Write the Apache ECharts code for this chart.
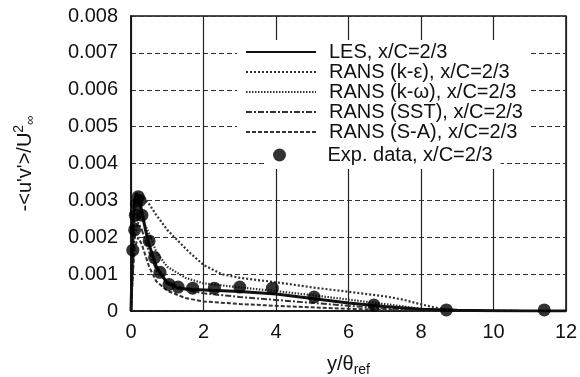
<!DOCTYPE html>
<html><head><meta charset="utf-8">
<script src="https://cdn.jsdelivr.net/npm/echarts@6/dist/echarts.min.js"></script>
<style>html,body{margin:0;padding:0;background:#fff}#c{width:580px;height:377px}</style>
</head><body><div id="c"></div>
<script>
var xTicks = [0,2,4,6,8,10,12];
var yTicks = [0,0.001,0.002,0.003,0.004,0.005,0.006,0.007,0.008];

var lesX = [0,0.03,0.06,0.1,0.15,0.2,0.3,0.4,0.5,0.7,1.0,1.3,1.7,2.2,3,4,5,6,7,8,9,10,11,12];
var lesY = [0,0.0012,0.0024,0.003,0.0032,0.0031,0.0027,0.0022,0.0018,0.0012,0.00075,0.00062,0.00058,0.00056,0.00053,0.00046,0.00034,0.00022,0.00012,0.00005,0.00002,0.00001,0,0];

var keX = [0,0.05,0.1,0.2,0.3,0.5,0.7,1.0,1.3,1.6,2.0,2.5,3,4,5,6,7,7.5,8,8.5,9,10,12];
var keY = [0,0.0015,0.0026,0.0031,0.0031,0.0029,0.0026,0.0022,0.0019,0.0016,0.00125,0.001,0.0009,0.00078,0.00064,0.00052,0.0004,0.00031,0.00018,0.00007,0.00002,0,0];

var kwX = [0,0.05,0.1,0.2,0.3,0.5,0.7,1.0,1.5,2,3,4,5,6,7,8,8.5,9,12];
var kwY = [0,0.0013,0.0022,0.0026,0.0025,0.0021,0.0016,0.0012,0.0009,0.00075,0.00064,0.00054,0.00043,0.00031,0.00019,0.00006,0.00002,0,0];

var sstX = [0,0.05,0.1,0.2,0.3,0.5,0.7,1.0,1.5,2,3,4,5,6,7,8,9,12];
var sstY = [0,0.0012,0.002,0.0024,0.0022,0.0016,0.0011,0.0008,0.00058,0.00048,0.00038,0.0003,0.00022,0.00014,0.00007,0.00002,0,0];

var saX = [0,0.05,0.1,0.2,0.3,0.5,0.7,1.0,1.5,2,3,4,5,6,7,8,12];
var saY = [0,0.001,0.0017,0.002,0.0018,0.0012,0.0008,0.00055,0.00035,0.00026,0.00019,0.00014,0.0001,0.00006,0.00003,0.00001,0];

var expX = [0.05,0.1,0.12,0.15,0.2,0.25,0.3,0.5,0.65,0.8,1.05,1.3,1.7,2.3,3.0,3.9,5.05,6.7,8.7,11.4];
var expY = [0.00165,0.0022,0.0026,0.0029,0.0031,0.003,0.0026,0.0019,0.00145,0.00105,0.00072,0.00065,0.00062,0.00062,0.00065,0.00062,0.00038,0.00016,0.00003,0.00003];

var names = ['LES, x/C=2/3','RANS (k-\u03b5), x/C=2/3','RANS (k-\u03c9), x/C=2/3','RANS (SST), x/C=2/3','RANS (S-A), x/C=2/3','Exp. data, x/C=2/3'];

function zip(a,b){return a.map(function(v,i){return [v,b[i]];});}
var FONT = '"Liberation Sans", Arial, sans-serif';
var chart = echarts.init(document.getElementById('c'));
chart.setOption({
  animation:false,
  backgroundColor:'#fff',
  textStyle:{fontFamily:FONT,color:'#111'},
  grid:{left:131,right:14,top:16,bottom:66,show:true,borderColor:'#111',borderWidth:1.5,backgroundColor:'transparent',outerBoundsMode:'none',containLabel:false},
  legend:[{
    data:names.slice(0,5), orient:'vertical', left:237, top:40, padding:[2,8,2,8], itemGap:0,
    backgroundColor:'#fff', itemWidth:70, itemHeight:10,
    itemStyle:{color:'rgba(0,0,0,0)',borderWidth:0,opacity:0},
    textStyle:{fontFamily:FONT,fontSize:20,color:'#111',lineHeight:19.5,padding:[0,0,0,8]}
  },{
    data:[names[5]], orient:'vertical', left:265, top:143, padding:[2,8,4,8],
    backgroundColor:'#fff', itemWidth:70, itemHeight:13, icon:'circle',
    textStyle:{fontFamily:FONT,fontSize:20,color:'#111',lineHeight:20,padding:[0,0,0,8]}
  }],
  xAxis:{type:'value',min:0,max:12,interval:2,
    name:'y/\u03b8{sub|ref}',nameLocation:'middle',nameGap:40,
    nameTextStyle:{fontFamily:FONT,fontSize:20,color:'#111',rich:{sub:{fontFamily:FONT,fontSize:14,color:'#111',verticalAlign:'bottom',padding:[12,0,0,0]}}},
    axisLine:{show:true,lineStyle:{color:'#111',width:1.5}},
    axisTick:{show:false},
    axisLabel:{fontFamily:FONT,fontSize:20,color:'#111',margin:11,formatter:function(v){return xTicks.indexOf(v)>=0?String(v):'';}},
    splitLine:{show:true,lineStyle:{color:'#222',width:1.2,type:'solid'}}
  },
  yAxis:{type:'value',min:0,max:0.008,interval:0.001,
    name:'-<u\'v\'>/U{sup|2}{sub|\u221e}',nameLocation:'middle',nameGap:93,nameRotate:90,
    nameTextStyle:{fontFamily:FONT,fontSize:20,color:'#111',rich:{sup:{fontFamily:FONT,fontSize:14,color:'#111',padding:[0,0,12,0]},sub:{fontFamily:FONT,fontSize:13,color:'#111',padding:[10,0,0,0]}}},
    axisLine:{show:true,lineStyle:{color:'#111',width:1.5}},
    axisTick:{show:false},
    axisLabel:{fontFamily:FONT,fontSize:20,color:'#111',margin:13,formatter:function(v){var i=yTicks.indexOf(Math.round(v*1000)/1000);return i===0?'0':(i>0?yTicks[i].toFixed(3):'');}},
    splitLine:{show:true,lineStyle:{color:'#333',width:1,type:[5,3]}}
  },
  series:[
    {name:names[0],type:'line',showSymbol:false,symbol:'none',data:zip(lesX,lesY),lineStyle:{color:'#111',width:3,type:'solid'},itemStyle:{color:'#111'},z:5},
    {name:names[1],type:'line',showSymbol:false,symbol:'none',data:zip(keX,keY),lineStyle:{color:'#333',width:2.2,type:[2,2]},itemStyle:{color:'#333'}},
    {name:names[2],type:'line',showSymbol:false,symbol:'none',data:zip(kwX,kwY),lineStyle:{color:'#333',width:2.2,type:[1.5,1.5]},itemStyle:{color:'#333'}},
    {name:names[3],type:'line',showSymbol:false,symbol:'none',data:zip(sstX,sstY),lineStyle:{color:'#333',width:2,type:[6,2,2,2]},itemStyle:{color:'#333'}},
    {name:names[4],type:'line',showSymbol:false,symbol:'none',data:zip(saX,saY),lineStyle:{color:'#333',width:2,type:[4,2]},itemStyle:{color:'#333'}},
    {name:names[5],type:'scatter',symbol:'circle',symbolSize:13,data:zip(expX,expY),itemStyle:{color:'#000'},z:6}
  ]
});
</script></body></html>
